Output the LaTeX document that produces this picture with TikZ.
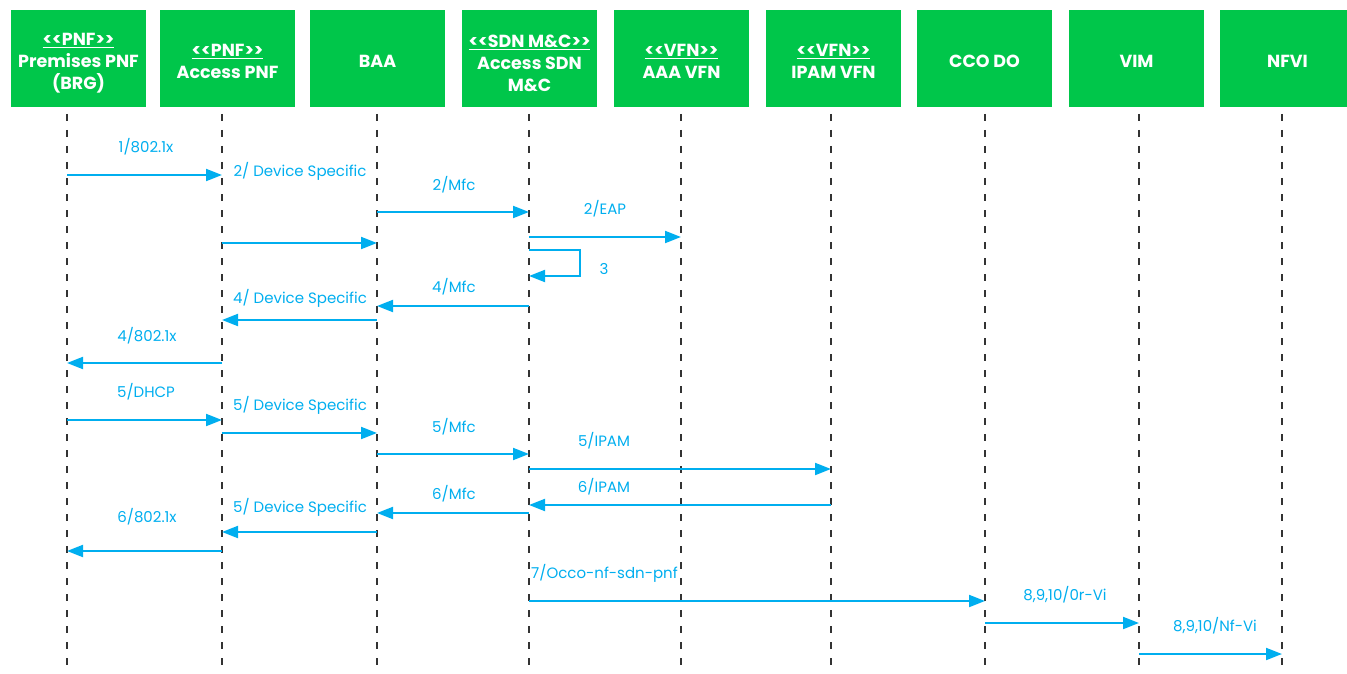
\documentclass[tikz,border=0pt]{standalone}
\usepackage{fontspec}
\setmainfont{Poppins}
\usetikzlibrary{arrows.meta}
\definecolor{boxgreen}{RGB}{0,198,74}
\definecolor{msgblue}{RGB}{0,174,239}
\definecolor{lifegray}{RGB}{51,51,51}
\tikzset{
  actor/.style={fill=boxgreen, inner sep=0pt,
    minimum width=135pt, minimum height=97pt},
  hdr/.style={text=white, align=center, inner sep=0pt, yshift=-3pt,
    font=\bfseries\fontsize{17.5}{22}\selectfont},
  lifeline/.style={draw=lifegray, line width=2.2pt, dash pattern=on 7pt off 9pt},
  msg/.style={draw=msgblue, line width=2pt, -{Triangle[length=16pt,width=12pt]}},
  lbl/.style={text=msgblue, inner sep=0pt, font=\fontsize{15}{17}\selectfont},
}
\newcommand\stereo[1]{\underline{#1}}

\begin{document}
\begin{tikzpicture}[x=1pt, y=-1pt]
  \useasboundingbox (0,0) rectangle (1347,674);

  \node[actor, label={[hdr, yshift=-2pt]center:{\stereo{<{}<PNF>{}>}\\Premises PNF\\(BRG)}}] (prem) at (78.5,58.5) {};
  \node[actor, label={[hdr]center:{\stereo{<{}<PNF>{}>}\\Access PNF}}] (acc) at (227.5,58.5) {};
  \node[actor, label={[hdr]center:{BAA}}] (baa) at (377.5,58.5) {};
  \node[actor, label={[hdr, yshift=-2pt]center:{\stereo{<{}<SDN M\&C>{}>}\\Access SDN\\M\&C}}] (sdn) at (529.5,58.5) {};
  \node[actor, label={[hdr]center:{\stereo{<{}<VFN>{}>}\\AAA VFN}}] (aaa) at (681.5,58.5) {};
  \node[actor, label={[hdr]center:{\stereo{<{}<VFN>{}>}\\IPAM VFN}}] (ipam) at (833.5,58.5) {};
  \node[actor, label={[hdr]center:{CCO DO}}] (cco) at (984.5,58.5) {};
  \node[actor, label={[hdr]center:{VIM}}] (vim) at (1136.5,58.5) {};
  \node[actor, label={[hdr]center:{NFVI}}] (nfvi) at (1287.5,58.5) {};

  \coordinate (l-prem) at (67,114);
  \coordinate (l-acc) at (222,114);
  \coordinate (l-baa) at (377,114);
  \coordinate (l-sdn) at (529,114);
  \coordinate (l-aaa) at (681,114);
  \coordinate (l-ipam) at (831,114);
  \coordinate (l-cco) at (985,114);
  \coordinate (l-vim) at (1139,114);
  \coordinate (l-nfvi) at (1282,114);

  \draw[lifeline] (l-prem) -- (l-prem |- 0,674);
  \draw[lifeline] (l-acc) -- (l-acc |- 0,674);
  \draw[lifeline] (l-baa) -- (l-baa |- 0,674);
  \draw[lifeline] (l-sdn) -- (l-sdn |- 0,674);
  \draw[lifeline] (l-aaa) -- (l-aaa |- 0,674);
  \draw[lifeline] (l-ipam) -- (l-ipam |- 0,674);
  \draw[lifeline] (l-cco) -- (l-cco |- 0,674);
  \draw[lifeline] (l-vim) -- (l-vim |- 0,674);
  \draw[lifeline] (l-nfvi) -- (l-nfvi |- 0,674);

  % attach
  \draw[msg] (l-prem |- 0,175) -- (l-acc |- 0,175);
  \node[lbl] (t1) at (146,147) {1/802.1x};
  \node[lbl] (t2) at (300,171) {2/ Device Specific};
  \draw[msg] (l-baa |- 0,212) -- (l-sdn |- 0,212);
  \node[lbl] (t3) at (454,185) {2/Mfc};
  \draw[msg] (l-sdn |- 0,237) -- (l-aaa |- 0,237);
  \node[lbl] (t4) at (605,209) {2/EAP};
  \draw[msg] (l-acc |- 0,243) -- (l-baa |- 0,243);
  \draw[msg] (l-sdn |- 0,250) -- ++(51,0) -- ++(0,26) -- (l-sdn |- 0,276);
  \node[lbl] (t5) at (604,269) {3};
  \draw[msg] (l-sdn |- 0,306) -- (l-baa |- 0,306);
  \node[lbl] (t6) at (454,287) {4/Mfc};
  \draw[msg] (l-baa |- 0,320) -- (l-acc |- 0,320);
  \node[lbl] (t7) at (300,298) {4/ Device Specific};
  \draw[msg] (l-acc |- 0,363) -- (l-prem |- 0,363);
  \node[lbl] (t8) at (147,336) {4/802.1x};

  % address
  \draw[msg] (l-prem |- 0,420) -- (l-acc |- 0,420);
  \node[lbl] (t9) at (146,392) {5/DHCP};
  \draw[msg] (l-acc |- 0,433) -- (l-baa |- 0,433);
  \node[lbl] (t10) at (300,405) {5/ Device Specific};
  \draw[msg] (l-baa |- 0,454) -- (l-sdn |- 0,454);
  \node[lbl] (t11) at (454,427) {5/Mfc};
  \draw[msg] (l-sdn |- 0,469) -- (l-ipam |- 0,469);
  \node[lbl] (t12) at (604,441) {5/IPAM};
  \draw[msg] (l-ipam |- 0,505) -- (l-sdn |- 0,505);
  \node[lbl] (t13) at (604,487) {6/IPAM};
  \draw[msg] (l-sdn |- 0,513) -- (l-baa |- 0,513);
  \node[lbl] (t14) at (454,494) {6/Mfc};
  \draw[msg] (l-baa |- 0,532) -- (l-acc |- 0,532);
  \node[lbl] (t15) at (300,507) {5/ Device Specific};
  \draw[msg] (l-acc |- 0,551) -- (l-prem |- 0,551);
  \node[lbl] (t16) at (147,517) {6/802.1x};

  % instantiate
  \draw[msg] (l-sdn |- 0,601) -- (l-cco |- 0,601);
  \node[lbl, anchor=west] (t17) at (531,573) {7/Occo-nf-sdn-pnf};
  \draw[msg] (l-cco |- 0,623) -- (l-vim |- 0,623);
  \node[lbl] (t18) at (1065,595) {8,9,10/0r-Vi};
  \draw[msg] (l-vim |- 0,654) -- (l-nfvi |- 0,654);
  \node[lbl] (t19) at (1215,626) {8,9,10/Nf-Vi};
\end{tikzpicture}
\end{document}
